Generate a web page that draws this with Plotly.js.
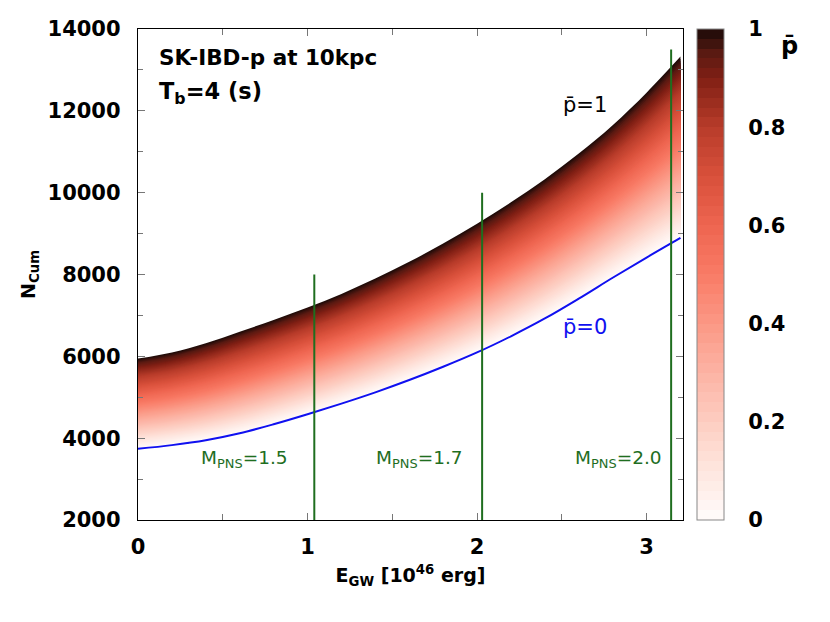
<!DOCTYPE html>
<html><head><meta charset="utf-8">
<script src="https://cdn.plot.ly/plotly-3.0.1.min.js"></script>
<style>body{margin:0;background:#fff}</style>
</head><body>
<div id="chart" style="width:830px;height:622px"></div>
<script>
// E_GW [10^46 erg]
const egw   = [0, 0.2, 0.4, 0.6, 0.8, 1.0, 1.2, 1.4, 1.6, 1.8, 2.0, 2.2, 2.4, 2.6, 2.8, 3.0, 3.2];
// p̄ = 0 curve (blue)
const nLow  = [3740, 3830, 3950, 4120, 4340, 4585, 4845, 5120, 5420, 5745, 6095, 6490, 6925, 7410, 7920, 8415, 8895];
// p̄ = 1 curve
const nHigh = [5945, 6095, 6320, 6600, 6890, 7195, 7525, 7900, 8310, 8755, 9240, 9765, 10330, 10955, 11650, 12445, 13325];
// M_PNS markers
const mpnsE     = [1.04, 2.03, 3.145];
const mpnsTop   = [8000, 10000, 13500];
const mpnsLabel = ['1.5', '1.7', '2.0'];
// tick labels
const xTicks  = [0, 1, 2, 3];
const yTicks  = [2000, 4000, 6000, 8000, 10000, 12000, 14000];
const cbTicks = [0, 0.2, 0.4, 0.6, 0.8, 1];
const cbText  = ['0', '0.2', '0.4', '0.6', '0.8', '1'];

const pbarScale = [
  [0.00, '#fffcfb'], [0.10, '#fee6df'], [0.20, '#fdcdc1'], [0.30, '#fcb3a4'],
  [0.40, '#fb9885'], [0.50, '#f97b66'], [0.60, '#ee6550'], [0.70, '#d8503b'],
  [0.80, '#b83c2a'], [0.90, '#801f14'], [0.95, '#5a1a12'], [1.00, '#1a0a08']
];

function hex2rgb(h){ return [parseInt(h.substr(1,2),16), parseInt(h.substr(3,2),16), parseInt(h.substr(5,2),16)]; }
function colorAt(t){
  for (let i = 1; i < pbarScale.length; i++){
    if (t <= pbarScale[i][0]){
      const a = pbarScale[i-1], b = pbarScale[i];
      const f = (t - a[0]) / (b[0] - a[0]);
      const ca = hex2rgb(a[1]), cb = hex2rgb(b[1]);
      const c = ca.map((v, j) => Math.round(v + f * (cb[j] - v)));
      return 'rgb(' + c.join(',') + ')';
    }
  }
  return pbarScale[pbarScale.length-1][1];
}
// stepped colorscale for the colorbar (the reference bar is banded)
const NSTEP = 50;
const steppedScale = [];
for (let s = 0; s < NSTEP; s++){
  const c = colorAt((s + 0.5) / NSTEP);
  steppedScale.push([s / NSTEP, c]);
  steppedScale.push([(s + 1) / NSTEP, c]);
}

const traces = [];
// overlapping fills: region from p̄=0 up to level k, darkest first
const K = 90;
for (let k = K; k >= 1; k--){
  const f = k / K;
  const yk = nLow.map((v, i) => v + f * (nHigh[i] - v));
  const c = colorAt((k - 0.5) / K);
  traces.push({x: egw, y: nLow, mode: 'lines', line: {width: 0, shape: 'spline'}, hoverinfo: 'skip', showlegend: false});
  traces.push({x: egw, y: yk, mode: 'lines', fill: 'tonexty', fillcolor: c,
    line: {width: 0, shape: 'spline'}, hoverinfo: 'skip', showlegend: false});
}
// p̄=0 curve
traces.push({x: egw, y: nLow, mode: 'lines', line: {color: '#1010f0', width: 2, shape: 'spline'}, hoverinfo: 'skip', showlegend: false});
// M_PNS vertical lines
mpnsE.forEach((e, i) => {
  traces.push({x: [e, e], y: [2000, mpnsTop[i]], mode: 'lines', line: {color: '#1f6e1f', width: 2}, hoverinfo: 'skip', showlegend: false});
});
// colorbar carrier
traces.push({x: [-1, -1], y: [0, 0], mode: 'markers', hoverinfo: 'skip', showlegend: false,
  marker: {color: [0, 1], cmin: 0, cmax: 1, colorscale: steppedScale, showscale: true, size: 1,
    colorbar: {x: 1.0257, xanchor: 'left', y: 0.5, yanchor: 'middle', len: 1, lenmode: 'fraction',
      thickness: 27, thicknessmode: 'pixels', outlinewidth: 1, outlinecolor: '#888',
      tickvals: cbTicks, ticktext: cbText, ticks: 'outside', ticklen: 20, tickcolor: 'rgba(0,0,0,0)',
      tickfont: {family: 'DejaVu Sans', size: 21, color: '#000', weight: 'bold'}, xpad: 0, ypad: 0}}});

const green = '#1f6e1f';
const bold = {family: 'DejaVu Sans', size: 21, color: '#000', weight: 'bold'};
const annotations = [
  {x: 0.112, y: 13300, xref: 'x', yref: 'y', xanchor: 'left', yanchor: 'middle', showarrow: false,
   text: '<b>SK-IBD-p at 10kpc</b>', font: {family: 'DejaVu Sans', size: 21.5, color: '#000'}},
  {x: 0.112, y: 12430, xref: 'x', yref: 'y', xanchor: 'left', yanchor: 'middle', showarrow: false,
   text: '<b>T<sub>b</sub>=4 (s)</b>', font: {family: 'DejaVu Sans', size: 22.5, color: '#000'}},
  {x: 2.494, y: 12150, xref: 'x', yref: 'y', xanchor: 'left', yanchor: 'middle', showarrow: false,
   text: 'p\u0304=1', font: {family: 'DejaVu Sans', size: 21, color: '#000'}},
  {x: 2.494, y: 6720, xref: 'x', yref: 'y', xanchor: 'left', yanchor: 'middle', showarrow: false,
   text: 'p\u0304=0', font: {family: 'DejaVu Sans', size: 21, color: '#1010f0'}},
  {x: 1.1945, y: 0.965, xref: 'paper', yref: 'paper', xanchor: 'center', yanchor: 'middle', showarrow: false,
   text: '<b>p\u0304</b>', font: {family: 'DejaVu Sans', size: 24, color: '#000'}}
];
const labelX = [0.896, 1.928, 3.10];
mpnsLabel.forEach((lab, i) => {
  annotations.push({x: labelX[i], y: 3500, xref: 'x', yref: 'y', xanchor: 'right', yanchor: 'middle', showarrow: false,
    text: 'M<sub>PNS</sub>=' + lab, font: {family: 'DejaVu Sans', size: 18.5, color: green}});
});

// small inside ticks on both edges of the colorbar
const shapes = [];
cbTicks.slice(1, -1).forEach(v => {
  shapes.push({type: 'line', xref: 'paper', yref: 'paper', x0: 1.0257, x1: 1.0338, y0: v, y1: v, line: {color: '#555', width: 1}});
  shapes.push({type: 'line', xref: 'paper', yref: 'paper', x0: 1.0672, x1: 1.0752, y0: v, y1: v, line: {color: '#555', width: 1}});
});

const layout = {
  width: 830, height: 622,
  margin: {l: 138, r: 147, t: 29, b: 102, pad: 0},
  paper_bgcolor: '#fff', plot_bgcolor: '#fff',
  showlegend: false,
  xaxis: {range: [0, 3.215], tickvals: xTicks, ticktext: xTicks.map(String),
    showgrid: false, zeroline: false, showline: true, linecolor: '#000', linewidth: 1.2, mirror: 'ticks',
    ticks: 'inside', ticklen: 7, tickcolor: '#777', tickwidth: 1,
    minor: {tickvals: [0.5, 1.5, 2.5], ticks: 'inside', ticklen: 6, tickcolor: '#777', showgrid: false},
    tickfont: bold, ticklabelstandoff: 8,
    title: {text: '<b>E<sub>GW</sub> [10<sup>46</sup> erg]</b>', font: {family: 'DejaVu Sans', size: 19, color: '#000'}, standoff: 10}},
  yaxis: {range: [2000, 14000], tickvals: yTicks, ticktext: yTicks.map(String),
    showgrid: false, zeroline: false, showline: true, linecolor: '#000', linewidth: 1.2, mirror: 'ticks',
    ticks: 'inside', ticklen: 7, tickcolor: '#777', tickwidth: 1,
    minor: {dtick: 1000, ticks: 'inside', ticklen: 5, tickcolor: '#777', showgrid: false},
    tickfont: bold, ticklabelstandoff: 12,
    title: {text: '<b>N<sub>Cum</sub></b>', font: {family: 'DejaVu Sans', size: 19, color: '#000'}, standoff: 6}},
  annotations: annotations,
  shapes: shapes
};

Plotly.newPlot('chart', traces, layout, {staticPlot: true, displayModeBar: false});
</script>
</body></html>
